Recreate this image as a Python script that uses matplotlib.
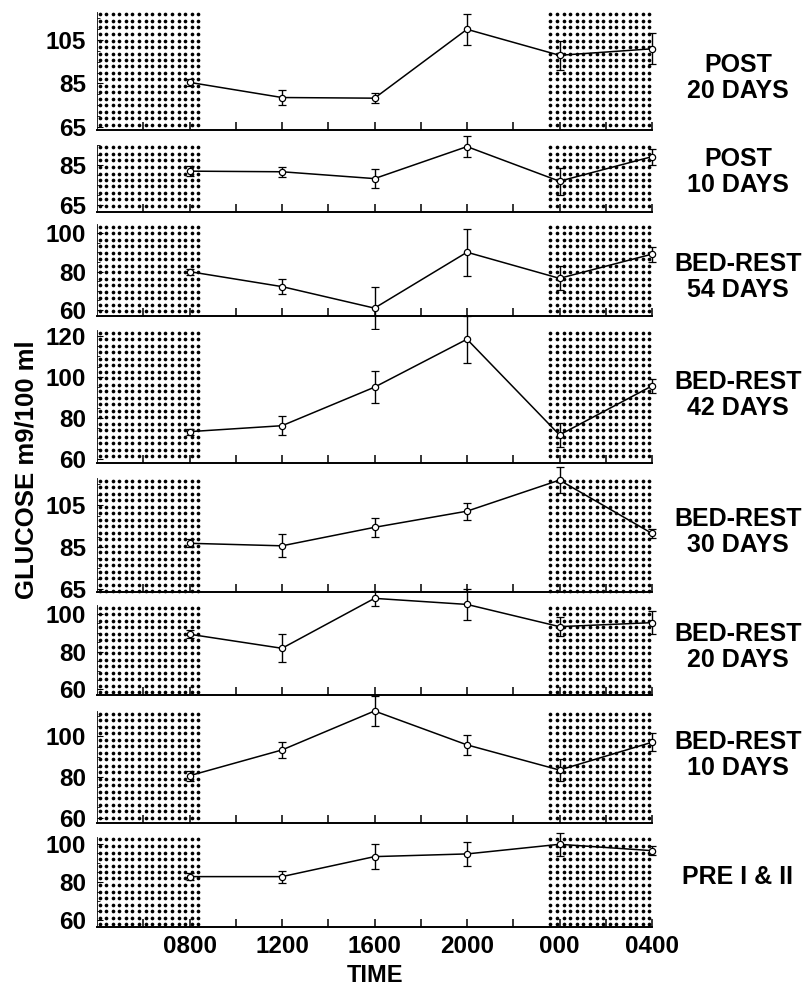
import numpy as np
import matplotlib
matplotlib.use('Agg')
import matplotlib.pyplot as plt

plt.rcParams['font.family'] = ['Liberation Sans', 'DejaVu Sans']
plt.rcParams['font.weight'] = 'bold'

# Sampling times (clock) and their offset in hours from 0400
time_labels = ['0800', '1200', '1600', '2000', '000', '0400']
hours = [4, 8, 12, 16, 20, 24]

# Lights off / on period, hours from 0400
dark_evening = (19.5, 24.0)
dark_morning = (0.0, 4.55)

# Panels, top to bottom
panel_names = ['POST\n20 DAYS', 'POST\n10 DAYS', 'BED-REST\n54 DAYS', 'BED-REST\n42 DAYS',
               'BED-REST\n30 DAYS', 'BED-REST\n20 DAYS', 'BED-REST\n10 DAYS', 'PRE I & II']

glucose_post20 = [85.5, 78.5, 78.2, 110.0, 98.0, 101.0]
err_post20 = [1.5, 3.3, 2.4, 7.1, 6.7, 7.1]
glucose_post10 = [82.0, 81.7, 78.3, 94.2, 77.0, 89.2]
err_post10 = [2.5, 2.5, 4.7, 5.4, 6.7, 4.0]
glucose_br54 = [80.0, 72.2, 61.0, 90.1, 76.5, 89.1]
err_br54 = [1.5, 3.8, 11.0, 12.3, 6.3, 3.9]
glucose_br42 = [73.3, 76.2, 95.0, 118.4, 71.7, 95.6]
err_br42 = [1.5, 4.6, 7.9, 11.4, 6.0, 3.3]
glucose_br30 = [86.8, 85.6, 94.4, 102.1, 116.9, 91.5]
err_br30 = [2.0, 5.5, 4.6, 4.1, 6.2, 2.0]
glucose_br20 = [89.1, 81.7, 108.0, 104.8, 93.1, 95.2]
err_br20 = [2.0, 7.4, 4.0, 8.3, 5.0, 6.0]
glucose_br10 = [80.6, 93.3, 112.5, 95.8, 83.4, 97.1]
err_br10 = [2.5, 3.8, 7.5, 4.8, 5.5, 4.5]
glucose_pre = [82.8, 82.8, 93.2, 94.6, 99.6, 96.3]
err_pre = [1.8, 3.1, 6.6, 6.2, 6.0, 2.5]

means = [glucose_post20, glucose_post10, glucose_br54, glucose_br42,
         glucose_br30, glucose_br20, glucose_br10, glucose_pre]
errors = [err_post20, err_post10, err_br54, err_br42,
          err_br30, err_br20, err_br10, err_pre]

y_limits = [(63.5, 118.0), (61.7, 95.0), (56.9, 104.8), (58.0, 122.9),
            (63.6, 117.9), (57.1, 104.5), (57.3, 112.5), (56.6, 103.4)]
y_ticks = [[65, 85, 105], [65, 85], [60, 80, 100], [60, 80, 100, 120],
           [65, 85, 105], [60, 80, 100], [60, 80, 100], [60, 80, 100]]

# Layout in pixels (top, bottom) of each panel and centre of its side label
W, H = 810, 991
panel_px = [(12, 130), (145, 212), (224, 316), (330, 463),
            (478, 592), (605, 695), (711, 823), (837, 927)]
label_y_px = [78, 172, 277, 395, 532, 647, 755, 877]
ax_left, ax_right = 97, 652


def dot_fill(ax, x0, x1, dx=6.6, dy=6.5):
    """fill a time span with a regular grid of dots (pixel spaced)"""
    y0, y1 = ax.get_ylim()
    p0 = ax.transData.transform((x0, y0))
    p1 = ax.transData.transform((x1, y1))
    px = np.arange(p0[0] + 2.5, p1[0] - 1, dx)
    py = np.arange(p1[1] - 2.5, p0[1] + 1, -dy)
    gx, gy = np.meshgrid(px, py)
    pts = ax.transData.inverted().transform(np.column_stack([gx.ravel(), gy.ravel()]))
    ax.scatter(pts[:, 0], pts[:, 1], s=7, c='black', marker='o',
               linewidths=0, zorder=1, clip_on=False)


fig = plt.figure(figsize=(W / 100, H / 100), dpi=100)
axes = []
for i in range(len(panel_names)):
    top, bottom = panel_px[i]
    ax = fig.add_axes([ax_left / W, 1 - bottom / H, (ax_right - ax_left) / W, (bottom - top) / H])
    axes.append(ax)

    # ticks first: set_ticks may widen the view limits
    ax.set_xticks(np.arange(2, 25, 2))
    ax.tick_params(axis='x', direction='in', length=6, width=1.1, labelbottom=False)
    ax.set_yticks(y_ticks[i])
    ax.set_yticks(np.arange(55, 125, 5), minor=True)
    ax.tick_params(axis='y', which='major', direction='in', length=4, width=0.8,
                   pad=8, labelsize=17.5)
    ax.tick_params(axis='y', which='minor', direction='in', length=2.5, width=0.6)
    for lab in ax.get_yticklabels():
        lab.set_fontweight('bold')

    ax.set_xlim(0, 24)
    ax.set_ylim(*y_limits[i])

    dot_fill(ax, *dark_morning)
    dot_fill(ax, *dark_evening)

    ax.errorbar(hours, means[i], yerr=errors[i], color='black', lw=1.1,
                elinewidth=1.0, capsize=2.8, capthick=1.0, marker='o',
                markersize=4.5, markerfacecolor='white', markeredgecolor='black',
                markeredgewidth=0.9, zorder=3, clip_on=False)
    ax.set_ylim(*y_limits[i])

    for s in ['top', 'right']:
        ax.spines[s].set_visible(False)
    ax.spines['bottom'].set_linewidth(1.4)
    ax.spines['left'].set_linewidth(0.6)

    fig.text(738 / W, 1 - label_y_px[i] / H, panel_names[i], ha='center', va='center',
             ma='center', fontsize=18, fontweight='bold', linespacing=1.15)

# time labels on the bottom panel only
bottom_ax = axes[-1]
bottom_ax.set_xticks(hours, minor=False)
bottom_ax.set_xticks(np.arange(2, 25, 4), minor=True)
bottom_ax.tick_params(axis='x', which='both', direction='in', length=6, width=1.1)
bottom_ax.tick_params(axis='x', which='major', labelbottom=True, labelsize=17.5, pad=6)
bottom_ax.set_xticklabels(time_labels, fontweight='bold')
bottom_ax.set_xlim(0, 24)

fig.text(375 / W, 1 - 975 / H, 'TIME', ha='center', va='center', fontsize=17, fontweight='bold')
fig.text(26 / W, 1 - 470 / H, 'GLUCOSE m9/100 ml', rotation=90, ha='center', va='center',
         fontsize=18.5, fontweight='bold')

fig.savefig('out.png', dpi=100, facecolor='white')
